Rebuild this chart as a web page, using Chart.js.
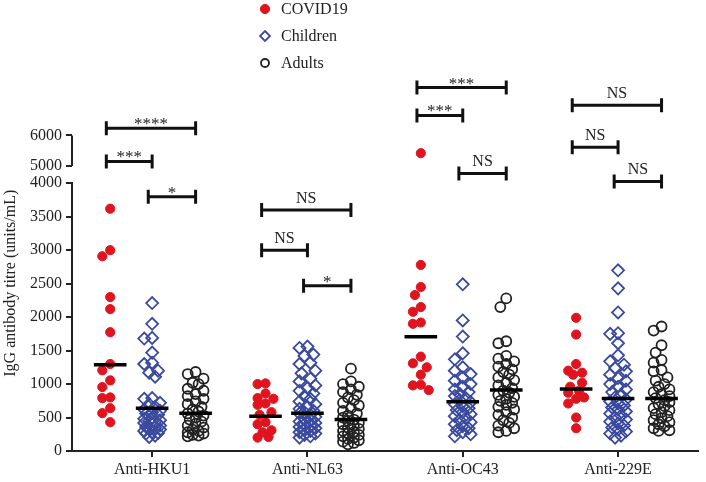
<!DOCTYPE html>
<html>
<head>
<meta charset="utf-8">
<script src="https://cdn.jsdelivr.net/npm/chart.js@4.4.1/dist/chart.umd.min.js"></script>
<style>
  html, body { margin: 0; padding: 0; background: #fff; }
  #wrap { width: 706px; height: 482px; }
</style>
</head>
<body>
<div id="wrap"><canvas id="titreChart"></canvas></div>
<script>
const categories = ['Anti-HKU1', 'Anti-NL63', 'Anti-OC43', 'Anti-229E'];
const groupNames = ['COVID19', 'Children', 'Adults'];
const yTitle = 'IgG antibody titre (units/mL)';

// IgG titres (units/mL)
const covidHKU1 = [3620, 3000, 2910, 2300, 2120, 1775, 1300, 1205, 1055, 955, 800, 790, 640, 565, 430];
const covidNL63 = [1010, 1000, 860, 790, 780, 710, 690, 580, 540, 430, 400, 310, 280, 210, 200];
const covidOC43 = [5420, 2780, 2450, 2330, 2150, 2080, 1920, 1900, 1410, 1310, 1250, 1140, 990, 980, 910];
const covid229E = [1990, 1740, 1300, 1200, 1170, 1140, 1020, 960, 900, 870, 800, 780, 710, 500, 340];

const childrenHKU1 = [2210, 1900, 1690, 1680, 1470, 1320, 1300, 1200, 1170, 1110, 790, 780, 720, 700, 660, 620, 600,
  580, 560, 540, 500, 480, 460, 450, 440, 420, 400, 380, 360, 350, 340, 320, 300, 280, 270, 260, 230, 210];
const childrenNL63 = [1560, 1540, 1440, 1420, 1320, 1300, 1200, 1160, 1080, 1040, 980, 940, 900, 860, 820, 780, 740,
  700, 660, 630, 600, 580, 560, 540, 510, 480, 460, 440, 420, 400, 380, 360, 340, 320, 300, 280, 260, 240, 220, 200];
const childrenOC43 = [2490, 1950, 1710, 1460, 1370, 1250, 1200, 1150, 1100, 1050, 1000, 960, 920, 880, 850, 820, 790,
  760, 730, 700, 670, 640, 610, 580, 550, 520, 490, 460, 430, 400, 370, 340, 310, 280, 250, 220];
const children229E = [2700, 2430, 2070, 1760, 1750, 1610, 1430, 1340, 1290, 1240, 1190, 1140, 1090, 1050, 1000, 960,
  920, 880, 840, 800, 770, 740, 710, 680, 650, 620, 590, 560, 530, 500, 470, 440, 410, 380, 350, 320, 290, 260, 230, 200];

const adultsHKU1 = [1180, 1150, 1080, 1020, 1000, 930, 900, 850, 820, 780, 740, 700, 660, 620, 590, 560, 530, 500,
  470, 440, 410, 380, 350, 320, 300, 280, 260, 240, 230, 220];
const adultsNL63 = [1230, 1040, 1000, 960, 920, 880, 840, 800, 760, 720, 680, 640, 600, 560, 530, 500, 470, 450, 420,
  400, 380, 350, 330, 300, 280, 260, 240, 220, 200, 180, 160, 140, 120, 100];
const adultsOC43 = [2280, 2150, 1640, 1610, 1420, 1380, 1340, 1300, 1260, 1220, 1180, 1140, 1100, 1060, 1020, 980,
  940, 900, 870, 840, 810, 780, 750, 720, 690, 660, 620, 580, 540, 500, 460, 420, 380, 340, 300, 280];
const adults229E = [1860, 1800, 1580, 1470, 1360, 1320, 1210, 1190, 1100, 1050, 1000, 960, 920, 880, 850, 820, 790,
  760, 730, 700, 670, 640, 610, 580, 550, 520, 490, 460, 430, 400, 370, 340, 310, 300];

// black centre bars
const covidMeans = [1290, 520, 1707, 925];
const childrenMeans = [640, 565, 735, 785];
const adultsMeans = [565, 470, 910, 785];

// significance brackets: per virus, top = COVID vs Adults, middle = COVID vs Children, low = Children vs Adults
const sigPairs = [[0, 2], [0, 1], [1, 2]];
const sigLabels = ['****', '***', '*', 'NS', 'NS', '*', '***', '***', 'NS', 'NS', 'NS', 'NS'];
const sigHeights = [6230, 5150, 3800, 3600, 3000, 2470, 7560, 6650, 4760, 6980, 5610, 4500];

const lowerTicks = [0, 500, 1000, 1500, 2000, 2500, 3000, 3500, 4000];
const upperTicks = [5000, 6000];
const breakAt = 4000;

const colors = ['#e0141e', '#3a4a9e', '#222222'];
const subOffsets = [-0.27, 0, 0.28];
const serif = '"Liberation Serif", "DejaVu Serif", serif';

const seriesData = [
  [covidHKU1, covidNL63, covidOC43, covid229E],
  [childrenHKU1, childrenNL63, childrenOC43, children229E],
  [adultsHKU1, adultsNL63, adultsOC43, adults229E]
];
const meanData = [covidMeans, childrenMeans, adultsMeans];

// simple beeswarm so overlapping dots spread sideways
const pxPerCat = 157;
const pxPerUnit = 267.4 / 4000;
function swarm(vals, minDist) {
  const cand = [0, -6, 6, -3, 3, -8, 8];
  const placed = [];
  const off = new Array(vals.length);
  const order = vals.map((v, i) => i).sort((a, b) => vals[b] - vals[a]);
  order.forEach(i => {
    const py = vals[i] * pxPerUnit;
    let best = 0, bestD = -1;
    for (const c of cand) {
      let d = Infinity;
      placed.forEach(p => { d = Math.min(d, Math.hypot(p.x - c, p.y - py)); });
      if (d >= minDist) { best = c; break; }
      if (d > bestD) { bestD = d; best = c; }
    }
    placed.push({ x: best, y: py });
    off[i] = best;
  });
  return off;
}

const pointStyles = [
  { pointStyle: 'circle', pointRadius: 4.6, pointBorderWidth: 1, pointBackgroundColor: colors[0], pointBorderColor: colors[0], dist: 9 },
  { pointStyle: 'rectRot', pointRadius: 6, pointBorderWidth: 1.8, pointBackgroundColor: 'rgba(0,0,0,0)', pointBorderColor: colors[1], dist: 9 },
  { pointStyle: 'circle', pointRadius: 5, pointBorderWidth: 1.8, pointBackgroundColor: 'rgba(0,0,0,0)', pointBorderColor: colors[2], dist: 9 }
];

const datasets = [];
meanData.forEach((means, s) => {
  means.forEach((m, g) => {
    const cx = g + subOffsets[s];
    datasets.push({
      label: 'mean', data: [{ x: cx - 0.105, y: m }, { x: cx + 0.105, y: m }],
      showLine: true, borderColor: '#000', borderWidth: 3.5, pointRadius: 0, yAxisID: 'y', order: 0
    });
  });
});
seriesData.forEach((perVirus, s) => {
  const lower = [], upper = [];
  perVirus.forEach((vals, g) => {
    const off = swarm(vals, pointStyles[s].dist);
    vals.forEach((v, i) => {
      const pt = { x: g + subOffsets[s] + off[i] / pxPerCat, y: v };
      (v > breakAt ? upper : lower).push(pt);
    });
  });
  const st = pointStyles[s];
  [['y', lower], ['y2', upper]].forEach(([axis, pts]) => {
    if (!pts.length) return;
    datasets.push({
      label: groupNames[s], data: pts, yAxisID: axis, order: 1,
      pointStyle: st.pointStyle, pointRadius: st.pointRadius, pointBorderWidth: st.pointBorderWidth,
      pointBackgroundColor: st.pointBackgroundColor, pointBorderColor: st.pointBorderColor, showLine: false
    });
  });
});

const extras = {
  id: 'extras',
  afterDraw(chart) {
    const ctx = chart.ctx;
    const xs = chart.scales.x, y = chart.scales.y, y2 = chart.scales.y2;
    ctx.save();
    // short upper axis segment
    ctx.strokeStyle = '#222';
    ctx.lineWidth = 2;
    ctx.beginPath();
    ctx.moveTo(chart.chartArea.left, y2.getPixelForValue(upperTicks[1]));
    ctx.lineTo(chart.chartArea.left, y2.getPixelForValue(upperTicks[0]));
    ctx.stroke();

    // y title, centred on the whole broken axis
    const topPx = y2.getPixelForValue(upperTicks[1]);
    const botPx = y.getPixelForValue(lowerTicks[0]);
    ctx.save();
    ctx.translate(11, (topPx + botPx) / 2 - 10);
    ctx.rotate(-Math.PI / 2);
    ctx.font = '16px ' + serif;
    ctx.fillStyle = '#222';
    ctx.textAlign = 'center';
    ctx.textBaseline = 'middle';
    ctx.fillText(yTitle, 0, 0);
    ctx.restore();

    // brackets
    ctx.lineWidth = 3;
    ctx.strokeStyle = '#111';
    ctx.fillStyle = '#222';
    ctx.textAlign = 'center';
    sigLabels.forEach((lab, i) => {
      const g = Math.floor(i / 3);
      const pair = sigPairs[i % 3];
      const x1 = xs.getPixelForValue(g + subOffsets[pair[0]] - 0.025);
      const x2 = xs.getPixelForValue(g + subOffsets[pair[1]]);
      const h = sigHeights[i];
      const py = (h > breakAt ? y2 : y).getPixelForValue(h);
      ctx.beginPath();
      ctx.moveTo(x1, py); ctx.lineTo(x2, py);
      ctx.moveTo(x1, py - 7); ctx.lineTo(x1, py + 7);
      ctx.moveTo(x2, py - 7); ctx.lineTo(x2, py + 7);
      ctx.stroke();
      ctx.textBaseline = 'alphabetic';
      if (lab === 'NS') {
        ctx.font = '16px ' + serif;
        ctx.fillText(lab, (x1 + x2) / 2, py - 7);
      } else {
        ctx.font = '17px ' + serif;
        ctx.fillText(lab, (x1 + x2) / 2, py + 1);
      }
    });

    // legend, one entry per row
    ctx.textAlign = 'left';
    ctx.textBaseline = 'middle';
    ctx.font = '16px ' + serif;
    groupNames.forEach((name, s) => {
      const st = pointStyles[s];
      const ly = 9 + s * 27;
      const r = s === 0 ? st.pointRadius : st.pointRadius - 1;
      ctx.fillStyle = st.pointBackgroundColor;
      ctx.strokeStyle = st.pointBorderColor;
      ctx.lineWidth = st.pointBorderWidth;
      ctx.beginPath();
      if (st.pointStyle === 'rectRot') {
        ctx.moveTo(265, ly - r); ctx.lineTo(265 + r, ly); ctx.lineTo(265, ly + r); ctx.lineTo(265 - r, ly); ctx.closePath();
      } else {
        ctx.arc(265, ly, r, 0, Math.PI * 2);
      }
      ctx.fill(); ctx.stroke();
      ctx.fillStyle = '#222';
      ctx.fillText(name, 281, ly + 1);
    });
    ctx.restore();
  }
};

const axisFont = { family: serif, size: 16 };
const plainTicks = { color: '#222', font: axisFont, padding: 4, autoSkip: false, callback: v => String(v) };

new Chart(document.getElementById('titreChart'), {
  type: 'scatter',
  data: { datasets: datasets },
  options: {
    responsive: true,
    maintainAspectRatio: false,
    animation: false,
    layout: { padding: { top: 80, right: 1, left: 0, bottom: 0 } },
    plugins: { legend: { display: false }, tooltip: { enabled: false } },
    scales: {
      x: {
        type: 'linear', min: -0.516, max: 3.516,
        afterBuildTicks: s => { s.ticks = categories.map((c, i) => ({ value: i })); },
        afterFit: s => { s.height = 31; },
        ticks: { callback: v => categories[v], color: '#222', font: axisFont, padding: 3, autoSkip: false, maxRotation: 0 },
        grid: { drawOnChartArea: false, drawTicks: true, tickLength: 6, color: '#222', lineWidth: 2 },
        border: { display: true, color: '#222', width: 2 }
      },
      y: {
        type: 'linear', position: 'left', stack: 'titre', stackWeight: 267,
        min: 0, max: 4000,
        afterBuildTicks: s => { s.ticks = lowerTicks.map(v => ({ value: v })); },
        afterFit: s => { s.width = 72; },
        ticks: plainTicks,
        grid: { drawOnChartArea: false, drawTicks: true, tickLength: 6, color: '#222', lineWidth: 2 },
        border: { display: true, color: '#222', width: 2 },
        title: { display: false }
      },
      y2: {
        type: 'linear', position: 'left', stack: 'titre', stackWeight: 103,
        min: 4440, max: 7805,
        afterBuildTicks: s => { s.ticks = upperTicks.map(v => ({ value: v })); },
        afterFit: s => { s.width = 72; },
        ticks: plainTicks,
        grid: { drawOnChartArea: false, drawTicks: true, tickLength: 6, color: '#222', lineWidth: 2 },
        border: { display: false }
      }
    }
  },
  plugins: [extras]
});
</script>
</body>
</html>
